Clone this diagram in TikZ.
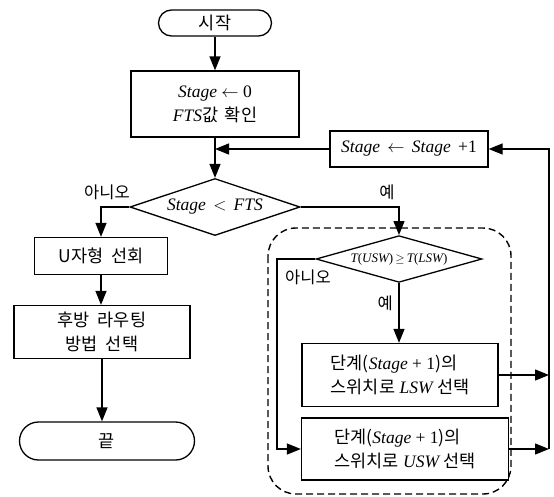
\documentclass[tikz,border=0pt]{standalone}
\usepackage{fontspec}
\setmainfont{Liberation Serif}
\newfontfamily\krfont{Noto Sans CJK KR}
\usetikzlibrary{arrows.meta,shapes.geometric}
\newcommand{\ko}[1]{{\krfont #1}}
\tikzset{
	flow/.style={line width=1.3pt, -{Triangle[length=14pt,width=11pt]}},
	box/.style={draw, line width=1.3pt, inner sep=2pt, align=center, font=\fontsize{17.5}{24}\selectfont},
	term/.style={box},
	cond/.style={draw, diamond, line width=1.3pt, inner sep=1pt, aspect=3, font=\fontsize{17.5}{20}\selectfont},
	lbl/.style={font=\fontsize{16.5}{19}\selectfont\krfont, inner sep=0pt},
}

\begin{document}
\begin{tikzpicture}[x=1pt,y=-1pt]
		\useasboundingbox (0,0) rectangle (554,496);
		%%%%% START %%%%%
		
		\draw[line width=1.4pt, dash pattern=on 7pt off 4pt, rounded corners=28pt] (268,228) rectangle (511,494);
		
		\node[term, rounded corners=13pt, minimum width=113pt, minimum height=26pt] (start) at (215,23) {\ko{시작}};
		\node[box, minimum width=168pt, minimum height=66pt] (init) at (215,104) {{\itshape Stage} $\leftarrow$ 0\\{\itshape FTS}\ko{값\ \,확인}};
		\node[box, minimum width=158pt, minimum height=36pt] (incr) at (409,149) {{\itshape Stage}\ \,$\leftarrow$\ \,{\itshape Stage}\ \,+1};
		\node[cond, minimum width=170pt, minimum height=57pt] (dec1) at (215,207) {{\itshape Stage}\ \,$<$\ \,{\itshape FTS}};
		
		\node[lbl] (no1) at (107,192) {아니오};
		\node[lbl] (yes1) at (387,192) {예};
		
		\node[box, minimum width=133pt, minimum height=37pt] (ubox) at (101,256) {\ko{U자형\ \ 선회}};
		\node[box, minimum width=176pt, minimum height=53pt] (hub) at (102,332) {\ko{후방\ \ 라우팅}\\\ko{방법\ \ 선택}};
		\node[term, rounded corners=19pt, minimum width=175pt, minimum height=38pt] (fin) at (107,441) {\ko{끝}};
		
		\node[cond, minimum width=166pt, minimum height=45pt, font=\fontsize{13}{15}\selectfont] (dec2) at (399,259) {{\itshape T}({\itshape USW})\,$\geq$\,{\itshape T}({\itshape LSW})};
		\node[lbl] (no2) at (308,277) {아니오};
		\node[lbl, anchor=east] (yes2) at (393,303) {예};
		
		\node[box, align=left, minimum width=196pt, minimum height=63pt] (lsw) at (400,375) {\ko{단계(}{\itshape Stage} + 1\ko{)의}\\\ko{스위치로} {\itshape LSW} \ko{선택}};
		\node[box, align=left, minimum width=207pt, minimum height=62pt] (usw) at (405,449) {\ko{단계(}{\itshape Stage} + 1\ko{)의}\\\ko{스위치로} {\itshape USW} \ko{선택}};
		
		\coordinate (rail) at (549,0);
		\coordinate (nox) at (277,0);
		
		\draw[flow] (start) -- (init);
		\draw[flow] (init.south) -- (dec1.north);
		\draw[flow] (incr.west) -- (incr.west -| init.south);
		\draw[flow] (dec1.west) -| (ubox.north);
		\draw[flow] (dec1.east) -| (dec2.north);
		\draw[flow] (ubox.south) -- (ubox.south |- hub.north);
		\draw[flow] (hub.south) -- (hub.south |- fin.north);
		\draw[flow] (dec2.south) -- (dec2.south |- lsw.north);
		\draw[flow] (dec2.west) -- (dec2.west -| nox) |- (usw.west);
		\draw[flow] (lsw.east) -- (lsw.east -| rail);
		\draw[flow] (usw.east) -- (usw.east -| rail);
		\draw[flow] (usw.east -| rail) -- (incr.east -| rail) -- (incr.east);
		
		%%%%% END %%%%%
	\end{tikzpicture}
\end{document}
